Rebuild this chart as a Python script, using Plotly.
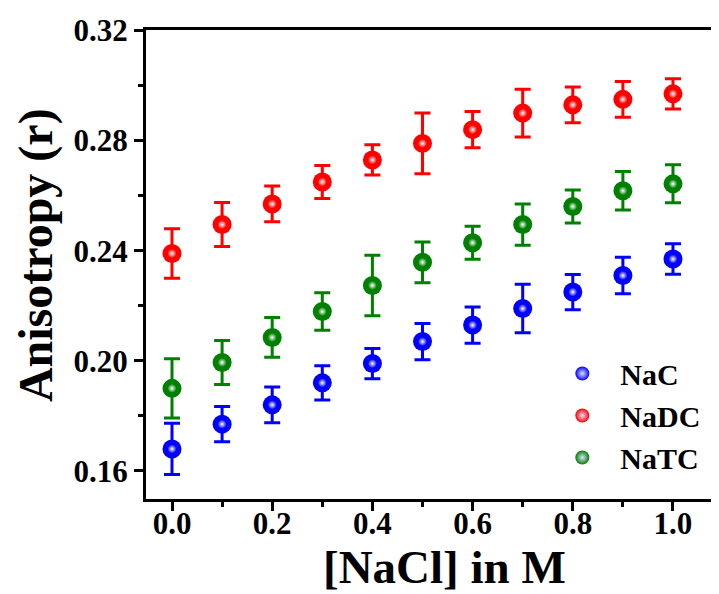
import plotly.graph_objects as go

nacl = [0.0, 0.1, 0.2, 0.3, 0.4, 0.5, 0.6, 0.7, 0.8, 0.9, 1.0]

nac = [0.168, 0.177, 0.184, 0.192, 0.199, 0.207, 0.213, 0.219, 0.225, 0.231, 0.237]
nac_err = [0.0093, 0.0064, 0.0065, 0.0062, 0.0055, 0.0066, 0.0066, 0.0088, 0.0064, 0.0066, 0.0055]

nadc = [0.239, 0.2495, 0.257, 0.265, 0.273, 0.279, 0.284, 0.290, 0.293, 0.295, 0.297]
nadc_err = [0.009, 0.008, 0.0065, 0.006, 0.0055, 0.011, 0.0066, 0.0087, 0.0065, 0.0065, 0.0055]

natc = [0.190, 0.1994, 0.2085, 0.2179, 0.2274, 0.2358, 0.2429, 0.2495, 0.2561, 0.2618, 0.2643]
natc_err = [0.0108, 0.008, 0.0072, 0.0068, 0.011, 0.0074, 0.006, 0.0075, 0.006, 0.007, 0.0069]

series = [
    ("NaC", nac, nac_err, "#0000FF"),
    ("NaDC", nadc, nadc_err, "#FF0000"),
    ("NaTC", natc, natc_err, "#008000"),
]

FONT = "Liberation Serif, Times New Roman, serif"

fig = go.Figure()
for name, vals, errs, col in series:
    fig.add_trace(go.Scatter(
        x=nacl, y=vals, mode="markers", name=name, showlegend=False,
        error_y=dict(type="data", array=errs, visible=True, color=col, thickness=3, width=8),
        marker=dict(size=19, color=col, line=dict(width=0)),
    ))
    # highlight to mimic the shaded sphere
    fig.add_trace(go.Scatter(
        x=nacl, y=vals, mode="markers", showlegend=False, hoverinfo="skip",
        marker=dict(size=9, color=col, line=dict(width=0),
                    gradient=dict(type="radial", color="#FFFFFF")),
    ))

for name, vals, errs, col in series:
    fig.add_trace(go.Scatter(
        x=[None], y=[None], mode="markers", name=name,
        marker=dict(size=14, color=col, line=dict(width=0),
                    gradient=dict(type="radial", color="#E0E0FF")),
    ))

axis_common = dict(
    showline=True, linecolor="black", linewidth=3,
    ticks="outside", ticklen=9, tickwidth=3, tickcolor="black",
    showgrid=False, zeroline=False,
    tickfont=dict(family=FONT, size=31, color="black", weight="bold"),
)

fig.update_layout(
    width=719, height=594,
    margin=dict(l=138, r=0, t=22, b=103),
    plot_bgcolor="white", paper_bgcolor="white",
    xaxis=dict(range=[-0.0519, 1.1078], tick0=0, dtick=0.2, tickformat=".1f",
               mirror=True, ticklabelstandoff=-14,
               minor=dict(dtick=0.1, ticks="outside", ticklen=5, tickwidth=3, tickcolor="black"),
               **axis_common),
    yaxis=dict(range=[0.1498, 0.3202], tick0=0.16, dtick=0.04, tickformat=".2f",
               minor=dict(dtick=0.02, ticks="outside", ticklen=5, tickwidth=3, tickcolor="black"),
               **axis_common),
    legend=dict(x=0.6856, y=0.323, xanchor="left", yanchor="top",
                bgcolor="rgba(0,0,0,0)", itemwidth=66,
                font=dict(family=FONT, size=30, color="black", weight="bold"),
                itemsizing="trace"),
    annotations=[
        dict(text="[NaCl] in M", xref="paper", yref="paper", x=0.514, y=-0.145,
             xanchor="center", yanchor="middle", showarrow=False,
             font=dict(family=FONT, size=47, color="black", weight="bold")),
        dict(text="Anisotropy (r)", xref="paper", yref="paper", x=0, y=0.520,
             xanchor="center", yanchor="middle", xshift=-110, textangle=-90, showarrow=False,
             font=dict(family=FONT, size=48, color="black", weight="bold")),
    ],
)

fig.write_html("out.html")
